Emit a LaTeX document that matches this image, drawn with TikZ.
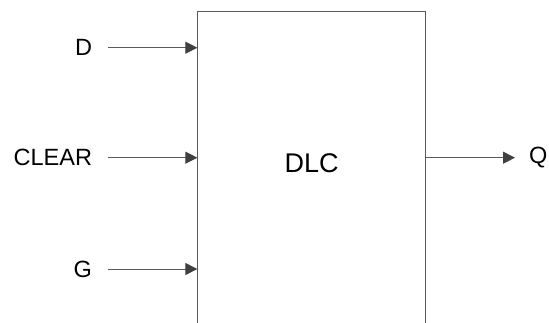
\documentclass[tikz,border=0pt]{standalone}
\usepackage{fontspec}
\setmainfont{Liberation Sans}
\usetikzlibrary{arrows.meta}
\definecolor{linegray}{HTML}{5A5A5A}
\definecolor{headgray}{HTML}{404040}
\begin{document}
\begin{tikzpicture}[x=1pt,y=1pt,
  lbl/.style={inner sep=0pt, font=\fontsize{23.5}{24}\selectfont},
  inlbl/.style={lbl, anchor=east, outer xsep=16pt},
  outlbl/.style={lbl, anchor=west, outer xsep=14pt},
  blk/.style={draw=linegray, line width=1pt, minimum width=227.5pt, minimum height=340pt, anchor=north, inner sep=0pt},
  arr/.style={draw=linegray, line width=1pt, -{Triangle[length=12pt,width=12pt,fill=headgray,color=headgray]}}
]
\useasboundingbox (0,0) rectangle (549,-322);
\clip (0,0) rectangle (549,-322);
\node[blk] (box) at (311.6,-10.7) {};
\node[inner sep=0pt, font=\fontsize{27}{28}\selectfont] (dlc) at (311.6,-163) {DLC};
\node[inlbl] (d) at (108,-47.7) {D};
\node[inlbl] (clr) at (108,-157.7) {CLEAR};
\node[inlbl] (g) at (108,-269) {G};
\node[outlbl] (q) at (515,-157.7) {Q};
\draw[arr] (d.east) -- (d.east -| box.west);
\draw[arr] (clr.east) -- (clr.east -| box.west);
\draw[arr] (g.east) -- (g.east -| box.west);
\draw[arr] (q.west -| box.east) -- (q.west);
\end{tikzpicture}
\end{document}
